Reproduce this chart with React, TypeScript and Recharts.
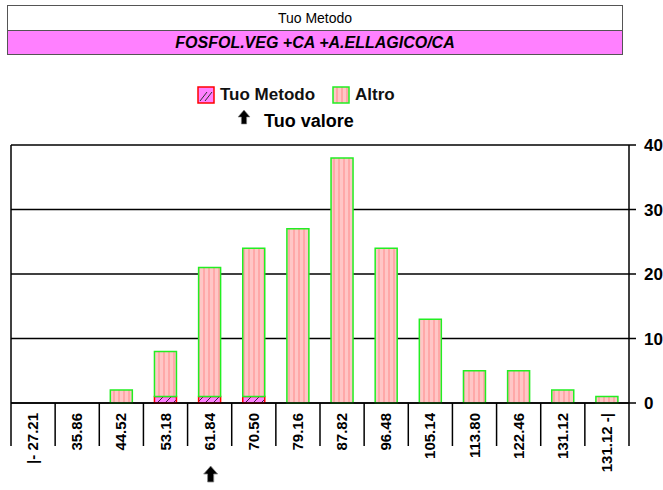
import React from 'react';
import { BarChart, Bar, XAxis, YAxis, CartesianGrid, Legend } from 'recharts';

const categories = ['|- 27.21', '35.86', '44.52', '53.18', '61.84', '70.50', '79.16', '87.82', '96.48', '105.14', '113.80', '122.46', '131.12', '131.12 -|'];
const tuoMetodo = [0, 0, 0, 1, 1, 1, 0, 0, 0, 0, 0, 0, 0, 0];
const altro = [0, 0, 2, 7, 20, 23, 27, 38, 24, 13, 5, 5, 2, 1];
const yTicks = [0, 10, 20, 30, 40];
const tuoValoreCategory = '61.84';
const titleLabel = 'Tuo Metodo';
const methodName = 'FOSFOL.VEG +CA +A.ELLAGICO/CA';
const seriesNames = { tuo: 'Tuo Metodo', altro: 'Altro' };
const tuoValoreLabel = 'Tuo valore';

const data = categories.map((c, i) => ({ name: c, tuo: tuoMetodo[i], altro: altro[i] }));

const FONT = '"Liberation Sans", Arial, Helvetica, sans-serif';

const arrowPath = (cx: number, ty: number, w: number, h: number) => {
  const hw = w / 2;
  const sw = w * 0.22;
  const hh = h * 0.5;
  return `M${cx},${ty} L${cx + hw},${ty + hh} L${cx + sw},${ty + hh} L${cx + sw},${ty + h} L${cx - sw},${ty + h} L${cx - sw},${ty + hh} L${cx - hw},${ty + hh} Z`;
};

const XTick = (props: any) => {
  const { x, y, payload, index, width } = props;
  const half = payload && payload.offset ? payload.offset : width / categories.length / 2;
  const isLast = index === categories.length - 1;
  const tx = x + 5;
  const ty = y + 10;
  return (
    <g>
      <line x1={x - half} x2={x - half} y1={y} y2={y + 43} stroke="#000" strokeWidth={1.5} />
      {isLast && <line x1={x + half} x2={x + half} y1={y} y2={y + 43} stroke="#000" strokeWidth={1.5} />}
      <text
        x={tx}
        y={ty}
        transform={`rotate(-90 ${tx} ${ty})`}
        textAnchor="end"
        fontSize={15}
        fontWeight="bold"
        fontFamily={FONT}
        fill="#000"
      >
        {payload.value}
      </text>
      {payload.value === tuoValoreCategory && (
        <path d={arrowPath(x + 1, y + 63, 14, 16)} fill="#000" stroke="#888" strokeWidth={0.8} />
      )}
    </g>
  );
};

const TuoSwatch = () => (
  <svg width={18} height={18} style={{ display: 'block' }}>
    <rect x={1} y={1} width={16} height={16} fill="#FF80FF" stroke="#FF0000" strokeWidth={1.5} />
    <line x1={3} y1={15} x2={10} y2={6} stroke="#333" strokeWidth={1} />
    <line x1={8} y1={15} x2={15} y2={6} stroke="#333" strokeWidth={1} />
  </svg>
);

const AltroSwatch = () => (
  <svg width={18} height={18} style={{ display: 'block' }}>
    <rect x={1} y={1} width={16} height={16} fill="#FFC6C6" />
    <rect x={4} y={1} width={2} height={16} fill="#FFA6A6" />
    <rect x={9} y={1} width={2} height={16} fill="#FFA6A6" />
    <rect x={14} y={1} width={2} height={16} fill="#FFA6A6" />
    <rect x={1} y={1} width={16} height={16} fill="none" stroke="#22EE22" strokeWidth={1.5} />
  </svg>
);

const legendLeft: Record<string, number> = { tuo: 197, altro: 332 };

const LegendContent = (props: any) => {
  const payload = props.payload || [];
  return (
    <div style={{ position: 'relative', width: 663, height: 60, fontFamily: FONT }}>
      {payload.map((entry: any, i: number) => (
        <div
          key={i}
          style={{ position: 'absolute', left: legendLeft[entry.dataKey] ?? 197 + i * 135, top: 6, display: 'flex', alignItems: 'center' }}
        >
          {entry.dataKey === 'tuo' ? <TuoSwatch /> : <AltroSwatch />}
          <span style={{ marginLeft: 5, fontSize: 17, fontWeight: 'bold', color: '#111', lineHeight: '18px' }}>{entry.value}</span>
        </div>
      ))}
      <svg style={{ position: 'absolute', left: 235, top: 29 }} width={20} height={18}>
        <path d={arrowPath(9, 1, 12, 14)} fill="#000" stroke="#888" strokeWidth={0.6} />
      </svg>
      <div style={{ position: 'absolute', left: 264, top: 31, fontSize: 18, fontWeight: 'bold', color: '#000', lineHeight: '20px' }}>
        {tuoValoreLabel}
      </div>
    </div>
  );
};

export default function App() {
  return (
    <div style={{ position: 'absolute', left: 0, top: 0, width: 663, height: 490, background: '#fff', fontFamily: FONT }}>
      <div
        style={{
          position: 'absolute',
          left: 7,
          top: 5,
          width: 614,
          height: 48,
          border: '1px solid #555',
          fontFamily: FONT,
        }}
      >
        <div style={{ height: 24, lineHeight: '24px', textAlign: 'center', fontSize: 14, color: '#000', borderBottom: '1px solid #555' }}>
          {titleLabel}
        </div>
        <div style={{ height: 23, lineHeight: '23px', textAlign: 'center', fontSize: 16, fontWeight: 'bold', fontStyle: 'italic', background: '#FF80FF', color: '#000' }}>
          {methodName}
        </div>
      </div>
      <div style={{ position: 'absolute', left: 0, top: 0 }}>
        <BarChart
          width={663}
          height={490}
          data={data}
          margin={{ top: 145, right: 4, bottom: 7, left: 5 }}
          barCategoryGap="25%"
        >
          <defs>
            <pattern id="altroPat" patternUnits="userSpaceOnUse" width={5} height={10}>
              <rect x={0} y={0} width={5} height={10} fill="#FFC6C6" />
              <rect x={3} y={0} width={2} height={10} fill="#FFA8A8" />
            </pattern>
            <pattern id="tuoPat" patternUnits="userSpaceOnUse" width={8} height={8}>
              <rect x={0} y={0} width={8} height={8} fill="#FF80FF" />
              <line x1={0} y1={8} x2={8} y2={0} stroke="#442244" strokeWidth={1} />
            </pattern>
          </defs>
          <CartesianGrid horizontal={true} vertical={false} stroke="#000" strokeWidth={1.5} yAxisId="right" />
          <XAxis
            dataKey="name"
            interval={0}
            tickLine={false}
            tickSize={0}
            tickMargin={0}
            height={80}
            axisLine={{ stroke: '#000', strokeWidth: 1.5 }}
            tick={<XTick />}
          />
          <YAxis
            yAxisId="left"
            orientation="left"
            width={6}
            domain={[0, 40]}
            ticks={yTicks}
            tick={false}
            tickSize={6}
            tickLine={{ stroke: '#000', strokeWidth: 1.5 }}
            axisLine={{ stroke: '#000', strokeWidth: 1.5 }}
          />
          <YAxis
            yAxisId="right"
            orientation="right"
            width={30}
            domain={[0, 40]}
            ticks={yTicks}
            tickSize={7}
            tickMargin={8}
            tickLine={{ stroke: '#000', strokeWidth: 1.5 }}
            axisLine={{ stroke: '#000', strokeWidth: 1.5 }}
            tick={{ fontSize: 17, fontWeight: 'bold', fill: '#000', fontFamily: FONT }}
          />
          <Legend
            verticalAlign="middle"
            align="center"
            content={<LegendContent />}
            wrapperStyle={{ top: 80, left: 0, width: 663, height: 60 }}
          />
          <Bar
            dataKey="tuo"
            name={seriesNames.tuo}
            stackId="a"
            yAxisId="right"
            fill="url(#tuoPat)"
            stroke="#FF0000"
            strokeWidth={1.5}
            isAnimationActive={false}
          />
          <Bar
            dataKey="altro"
            name={seriesNames.altro}
            stackId="a"
            yAxisId="right"
            fill="url(#altroPat)"
            stroke="#22EE22"
            strokeWidth={1.5}
            isAnimationActive={false}
          />
        </BarChart>
      </div>
    </div>
  );
}
